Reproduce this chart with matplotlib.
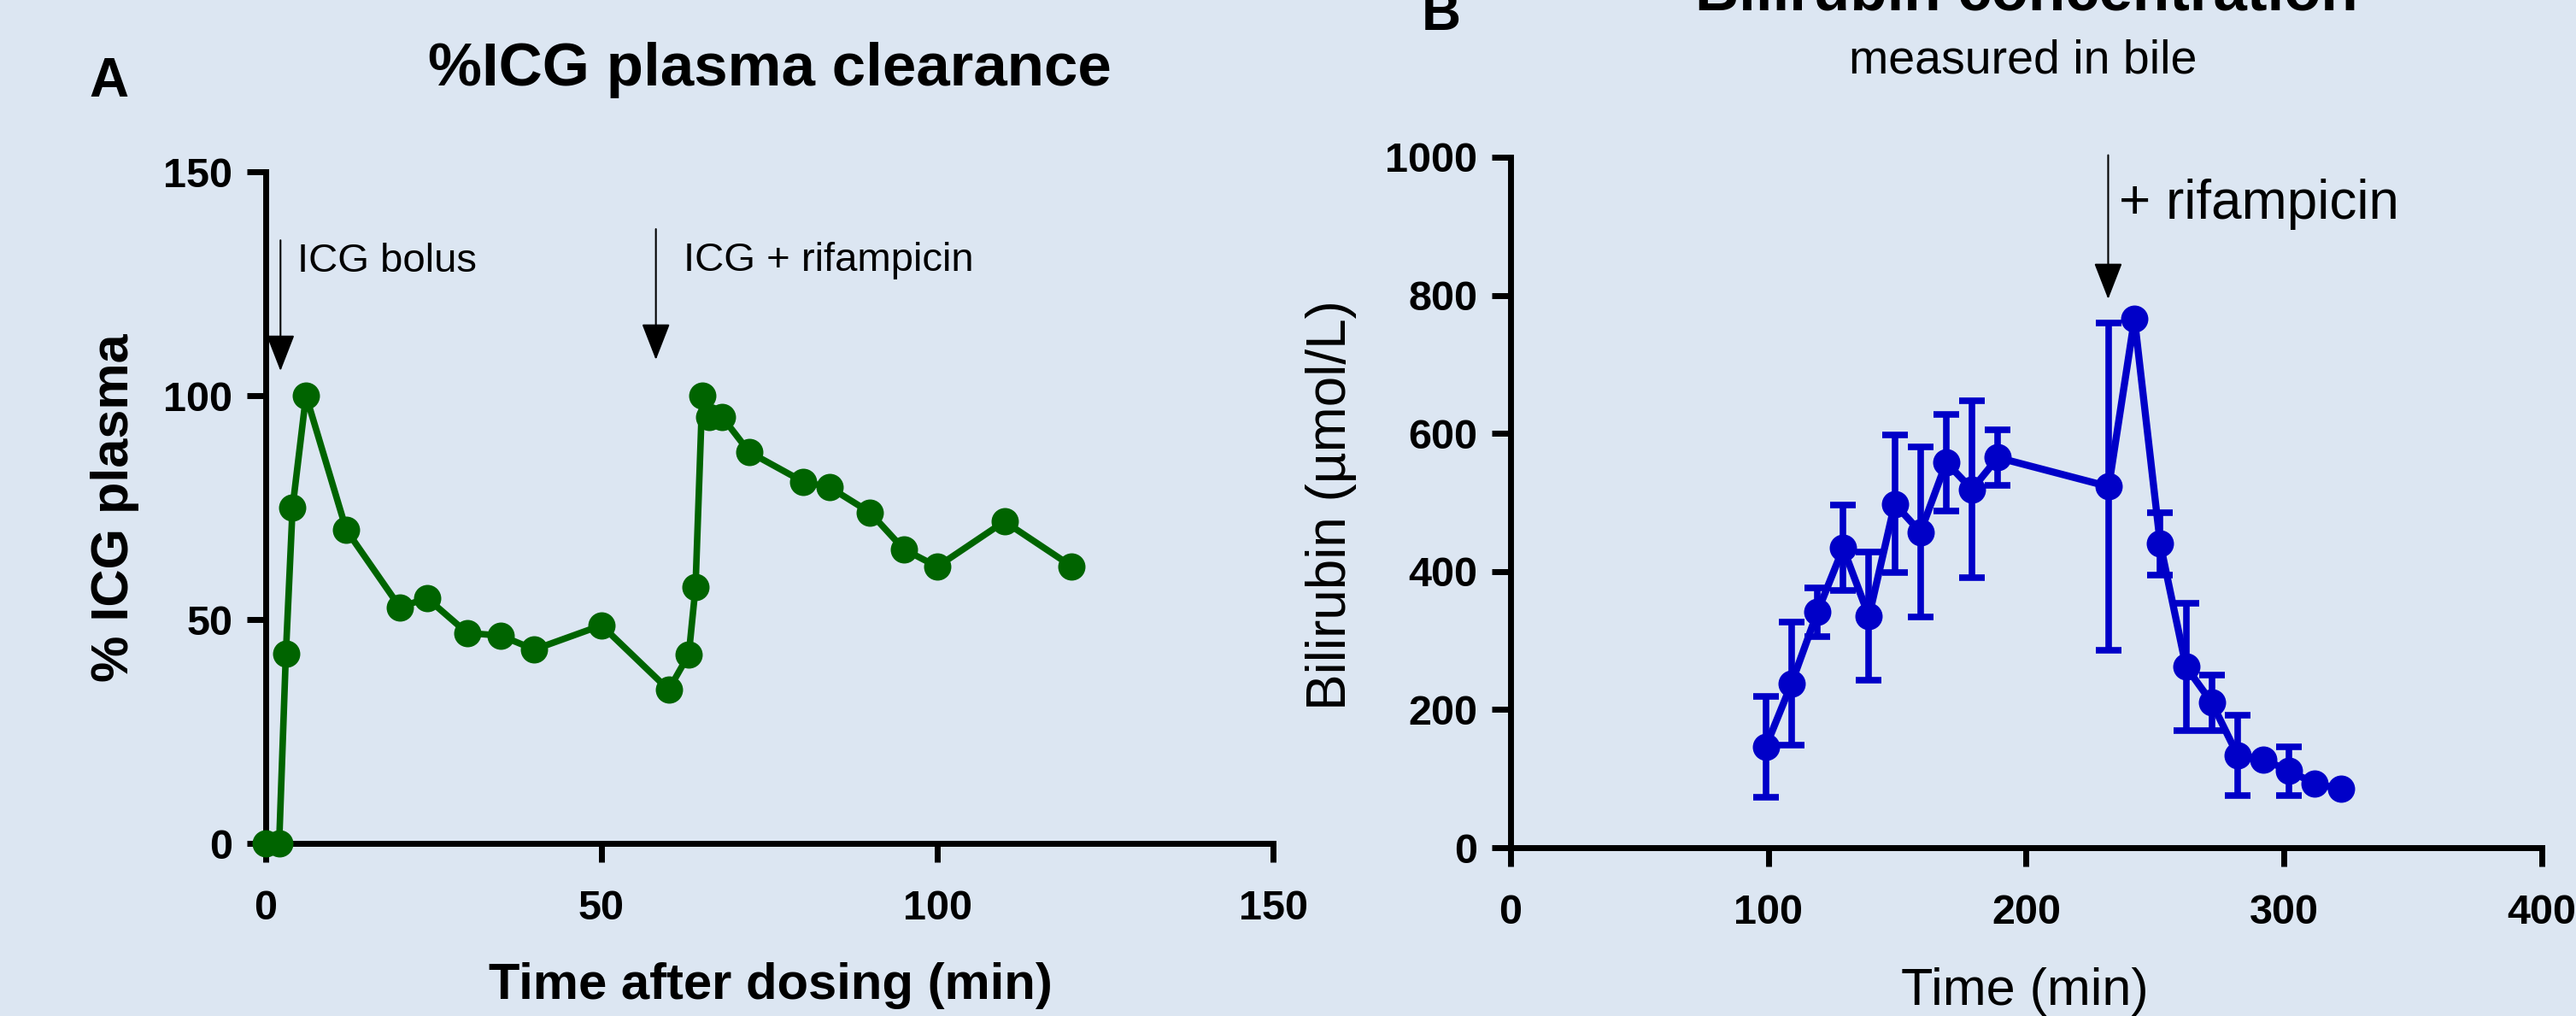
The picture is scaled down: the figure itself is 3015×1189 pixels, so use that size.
import matplotlib
matplotlib.use('Agg')
import matplotlib.pyplot as plt

plt.rcParams['font.family'] = ['Liberation Sans', 'DejaVu Sans']

BG = '#DCE6F2'
GREEN = '#006400'
BLUE = '#0000C8'

# panel A: % ICG in plasma
icg_time = [0, 2, 3, 4, 6, 12, 20, 24, 30, 35, 40, 50, 60, 63, 64, 65, 66, 68,
            72, 80, 84, 90, 95, 100, 110, 120]
icg_pct = [0, 0, 42.3, 75.0, 100, 70.0, 52.7, 54.8, 47.0, 46.4, 43.3, 48.7, 34.3,
           42.2, 57.2, 100, 95.2, 95.2, 87.4, 80.8, 79.5, 73.9, 65.7, 61.8, 71.9, 61.9]
icg_xticks = [0, 50, 100, 150]
icg_yticks = [0, 50, 100, 150]

# panel B: bilirubin in bile (mean +/- SD, 0 = no error bar shown)
bili_time = [99, 109, 119, 129, 139, 149, 159, 169, 179, 189,
             232, 242, 252, 262, 272, 282, 292, 302, 312, 322]
bili_conc = [146, 238, 341, 434, 335, 498, 457, 558, 519, 565,
             523, 766, 440, 262, 210, 134, 128, 111, 93, 85]
bili_sd = [73, 89, 35, 62, 93, 100, 123, 70, 128, 40,
           237, 0, 45, 92, 40, 58, 0, 35, 0, 0]
bili_xticks = [0, 100, 200, 300, 400]
bili_yticks = [0, 200, 400, 600, 800, 1000]

fig = plt.figure(figsize=(30.15, 11.89), dpi=100)
fig.patch.set_facecolor(BG)


def style_axes(ax, xmax, ymax, xticks, yticks):
    ax.set_facecolor('none')
    ax.set_xlim(0, xmax)
    ax.set_ylim(0, ymax)
    ax.set_xticks(xticks)
    ax.set_yticks(yticks)
    for side in ('top', 'right'):
        ax.spines[side].set_visible(False)
    for side in ('left', 'bottom'):
        ax.spines[side].set_linewidth(5)
        ax.spines[side].set_capstyle('projecting')
    ax.tick_params(axis='both', direction='out', length=16, width=5,
                   labelsize=35)
    ax.tick_params(axis='x', pad=23)
    ax.tick_params(axis='y', pad=12)
    for lab in ax.get_xticklabels() + ax.get_yticklabels():
        lab.set_fontweight('bold')


def arrow(ax, x, y_top, y_tip):
    ax.annotate('', xy=(x, y_tip), xytext=(x, y_top),
                arrowprops=dict(arrowstyle='-|>,head_length=2.7,head_width=1.05',
                                mutation_scale=10, lw=1.5, color='black',
                                shrinkA=0, shrinkB=0))


# ---- panel A ----
axA = fig.add_axes([0.10315, 0.16989, 0.39105, 0.66106])
style_axes(axA, 150, 150, icg_xticks, icg_yticks)
axA.plot(icg_time, icg_pct, color=GREEN, lw=5.5, marker='o', ms=23,
         markeredgewidth=0, clip_on=False, zorder=3)

axA.set_xlabel('Time after dosing (min)', fontsize=43, fontweight='bold',
               va='baseline')
axA.xaxis.set_label_coords(0.501, -0.2316)
axA.set_ylabel('% ICG plasma', fontsize=44, fontweight='bold')
axA.yaxis.label.set_va('center')
axA.yaxis.set_label_coords(-0.1493, 0.5)
axA.text(0.5, 1.1285, '%ICG plasma clearance', transform=axA.transAxes,
         ha='center', va='baseline', fontsize=51, fontweight='bold')

arrow(axA, 2.2, 134.7, 105.5)
arrow(axA, 58.1, 137.2, 108)
axA.text(4.7, 127.7, 'ICG bolus', fontsize=34, va='baseline')
axA.text(62.2, 127.9, 'ICG + rifampicin', fontsize=34, va='baseline')

fig.text(0.0345, 0.905, 'A', fontsize=46, fontweight='bold', va='baseline')

# ---- panel B ----
axB = fig.add_axes([0.58640, 0.16568, 0.40033, 0.67957])
style_axes(axB, 400, 1000, bili_xticks, bili_yticks)
axB.plot(bili_time, bili_conc, color=BLUE, lw=6, marker='o', ms=23,
         markeredgewidth=0, clip_on=False, zorder=3)
with_err = [i for i, e in enumerate(bili_sd) if e > 0]
axB.errorbar([bili_time[i] for i in with_err], [bili_conc[i] for i in with_err],
             yerr=[bili_sd[i] for i in with_err], fmt='none', ecolor=BLUE,
             elinewidth=5.5, capsize=11, capthick=5.5, zorder=2)

axB.set_xlabel('Time (min)', fontsize=44, va='baseline')
axB.xaxis.set_label_coords(0.4988, -0.2271)
axB.set_ylabel('Bilirubin (µmol/L)', fontsize=46)
axB.yaxis.label.set_va('center')
axB.yaxis.set_label_coords(-0.174, 0.496)
axB.text(0.5, 1.2129, 'Bilirubin concentration', transform=axB.transAxes,
         ha='center', va='baseline', fontsize=51, fontweight='bold')
axB.text(0.497, 1.1225, 'measured in bile', transform=axB.transAxes,
         ha='center', va='baseline', fontsize=40)

arrow(axB, 231.8, 1003, 794.5)
axB.text(236.1, 910.4, '+ rifampicin', fontsize=46, va='baseline')

fig.text(0.5519, 0.9706, 'B', fontsize=46, fontweight='bold', va='baseline')

fig.savefig('out.png', dpi=100, facecolor=BG)
